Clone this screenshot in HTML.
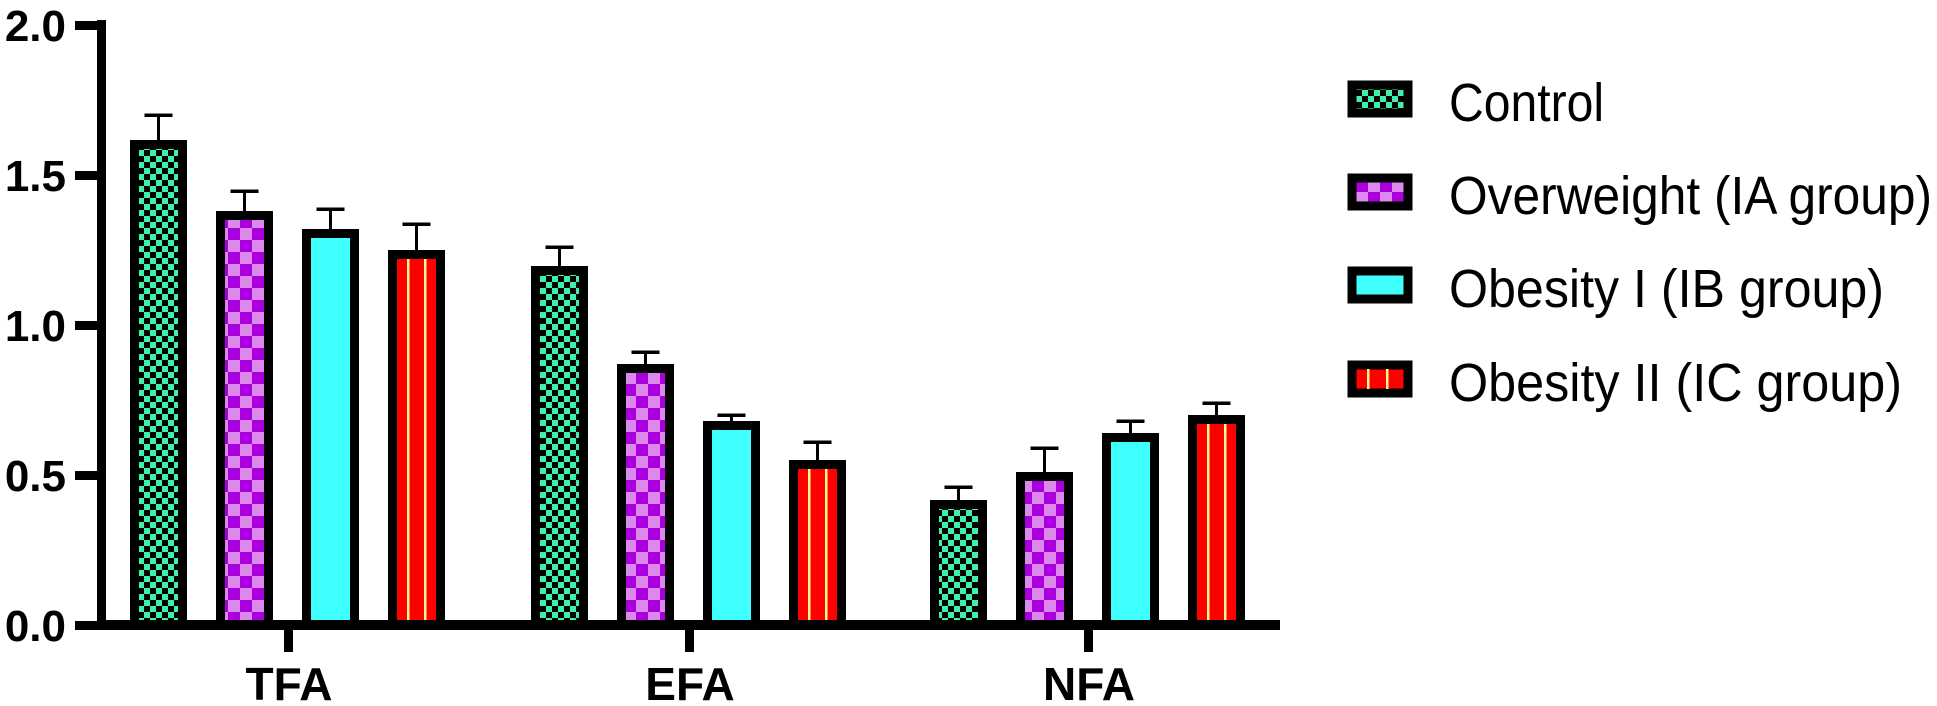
<!DOCTYPE html>
<html><head><style>html,body{margin:0;padding:0;background:#fff;}svg{display:block;}</style></head>
<body>
<svg width="1937" height="706" viewBox="0 0 1937 706" xmlns="http://www.w3.org/2000/svg">
<defs>
<pattern id="pc" width="12" height="12" patternUnits="userSpaceOnUse">
<rect width="12" height="12" fill="#000"/><rect width="6" height="6" fill="#3ef0a8"/><rect x="6" y="6" width="6" height="6" fill="#3ef0a8"/></pattern>
<pattern id="po" width="24" height="24" patternUnits="userSpaceOnUse">
<rect width="24" height="24" fill="#dd88ee"/><rect width="12" height="12" fill="#aa00dd"/><rect x="12" y="12" width="12" height="12" fill="#aa00dd"/></pattern>
</defs>
<g font-family="Liberation Sans, Arial, sans-serif">
<rect x="97" y="20" width="9" height="610" fill="#000"/>
<g fill="#000">
<rect x="75" y="21" width="25" height="9"/>
<rect x="75" y="171" width="25" height="9"/>
<rect x="75" y="321" width="25" height="9"/>
<rect x="75" y="471" width="25" height="9"/>
<rect x="75" y="621" width="25" height="9"/>
</g>
<g font-size="44" font-weight="bold" text-anchor="end">
<text x="66" y="41">2.0</text>
<text x="66" y="191">1.5</text>
<text x="66" y="341">1.0</text>
<text x="66" y="491">0.5</text>
<text x="66" y="641">0.0</text>
</g>

<g stroke="#000" stroke-width="9">
<!-- TFA -->
<rect x="134.5" y="144.5" width="48" height="480.5" fill="url(#pc)"/>
<rect x="220.5" y="215.5" width="48" height="409.5" fill="url(#po)"/>
<rect x="306.5" y="233.5" width="48" height="391.5" fill="#40ffff"/>
<rect x="392.5" y="254.5" width="48" height="370.5" fill="#ff0000"/>
<!-- EFA -->
<rect x="535.5" y="270.5" width="48" height="354.5" fill="url(#pc)"/>
<rect x="621.5" y="368.5" width="48" height="256.5" fill="url(#po)"/>
<rect x="707.5" y="425.5" width="48" height="199.5" fill="#40ffff"/>
<rect x="793.5" y="464.5" width="48" height="160.5" fill="#ff0000"/>
<!-- NFA -->
<rect x="934.5" y="504.5" width="48" height="120.5" fill="url(#pc)"/>
<rect x="1020.5" y="476.5" width="48" height="148.5" fill="url(#po)"/>
<rect x="1106.5" y="437.5" width="48" height="187.5" fill="#40ffff"/>
<rect x="1192.5" y="419.5" width="48" height="205.5" fill="#ff0000"/>
</g>
<g fill="#ffff88">
<rect x="407" y="259" width="2.5" height="361"/><rect x="424" y="259" width="2.5" height="361"/>
<rect x="808" y="469" width="2.5" height="151"/><rect x="825" y="469" width="2.5" height="151"/>
<rect x="1207" y="424" width="2.5" height="196"/><rect x="1224" y="424" width="2.5" height="196"/>
</g>
<g fill="#000">
<!-- error bars: stem + cap -->
<rect x="157" y="115" width="3" height="25"/><rect x="144.5" y="113.5" width="28" height="3.5"/>
<rect x="243" y="191" width="3" height="20"/><rect x="230.5" y="189.5" width="28" height="3.5"/>
<rect x="329" y="209" width="3" height="20"/><rect x="316.5" y="207.5" width="28" height="3.5"/>
<rect x="415" y="224" width="3" height="26"/><rect x="402.5" y="222.5" width="28" height="3.5"/>

<rect x="558" y="247" width="3" height="19"/><rect x="545.5" y="245.5" width="28" height="3.5"/>
<rect x="644" y="352" width="3" height="12"/><rect x="631.5" y="350.5" width="28" height="3.5"/>
<rect x="730" y="415" width="3" height="6"/><rect x="717.5" y="413.5" width="28" height="3.5"/>
<rect x="816" y="442" width="3" height="18"/><rect x="803.5" y="440.5" width="28" height="3.5"/>

<rect x="957" y="487" width="3" height="13"/><rect x="944.5" y="485.5" width="28" height="3.5"/>
<rect x="1043" y="448" width="3" height="24"/><rect x="1030.5" y="446.5" width="28" height="3.5"/>
<rect x="1129" y="421" width="3" height="12"/><rect x="1116.5" y="419.5" width="28" height="3.5"/>
<rect x="1215" y="403" width="3" height="12"/><rect x="1202.5" y="401.5" width="28" height="3.5"/>
</g>

<rect x="97" y="620" width="1183" height="10" fill="#000"/>
<rect x="284" y="625" width="9" height="27" fill="#000"/>
<rect x="685" y="625" width="9" height="27" fill="#000"/>
<rect x="1084" y="625" width="9" height="27" fill="#000"/>
<g font-size="46" font-weight="bold" text-anchor="middle">
<text x="289" y="700">TFA</text>
<text x="690" y="700">EFA</text>
<text x="1089" y="700">NFA</text>
</g>
<g stroke="#000" stroke-width="9">
<rect x="1352" y="85" width="56" height="28" fill="url(#pc)"/>
<rect x="1352" y="178" width="56" height="28" fill="url(#po)"/>
<rect x="1352" y="271" width="56" height="28" fill="#40ffff"/>
<rect x="1352" y="365" width="56" height="28" fill="#ff0000"/>
</g>
<rect x="1367" y="369" width="2.5" height="20" fill="#ffff88"/><rect x="1386" y="369" width="2.5" height="20" fill="#ffff88"/>
<g font-size="54">
<text x="1449" y="121" textLength="155" lengthAdjust="spacingAndGlyphs">Control</text>
<text x="1449" y="214" textLength="483" lengthAdjust="spacingAndGlyphs">Overweight (IA group)</text>
<text x="1449" y="307" textLength="435" lengthAdjust="spacingAndGlyphs">Obesity I (IB group)</text>
<text x="1449" y="401" textLength="453" lengthAdjust="spacingAndGlyphs">Obesity II (IC group)</text>
</g>
</g>
</svg>
</body></html>
